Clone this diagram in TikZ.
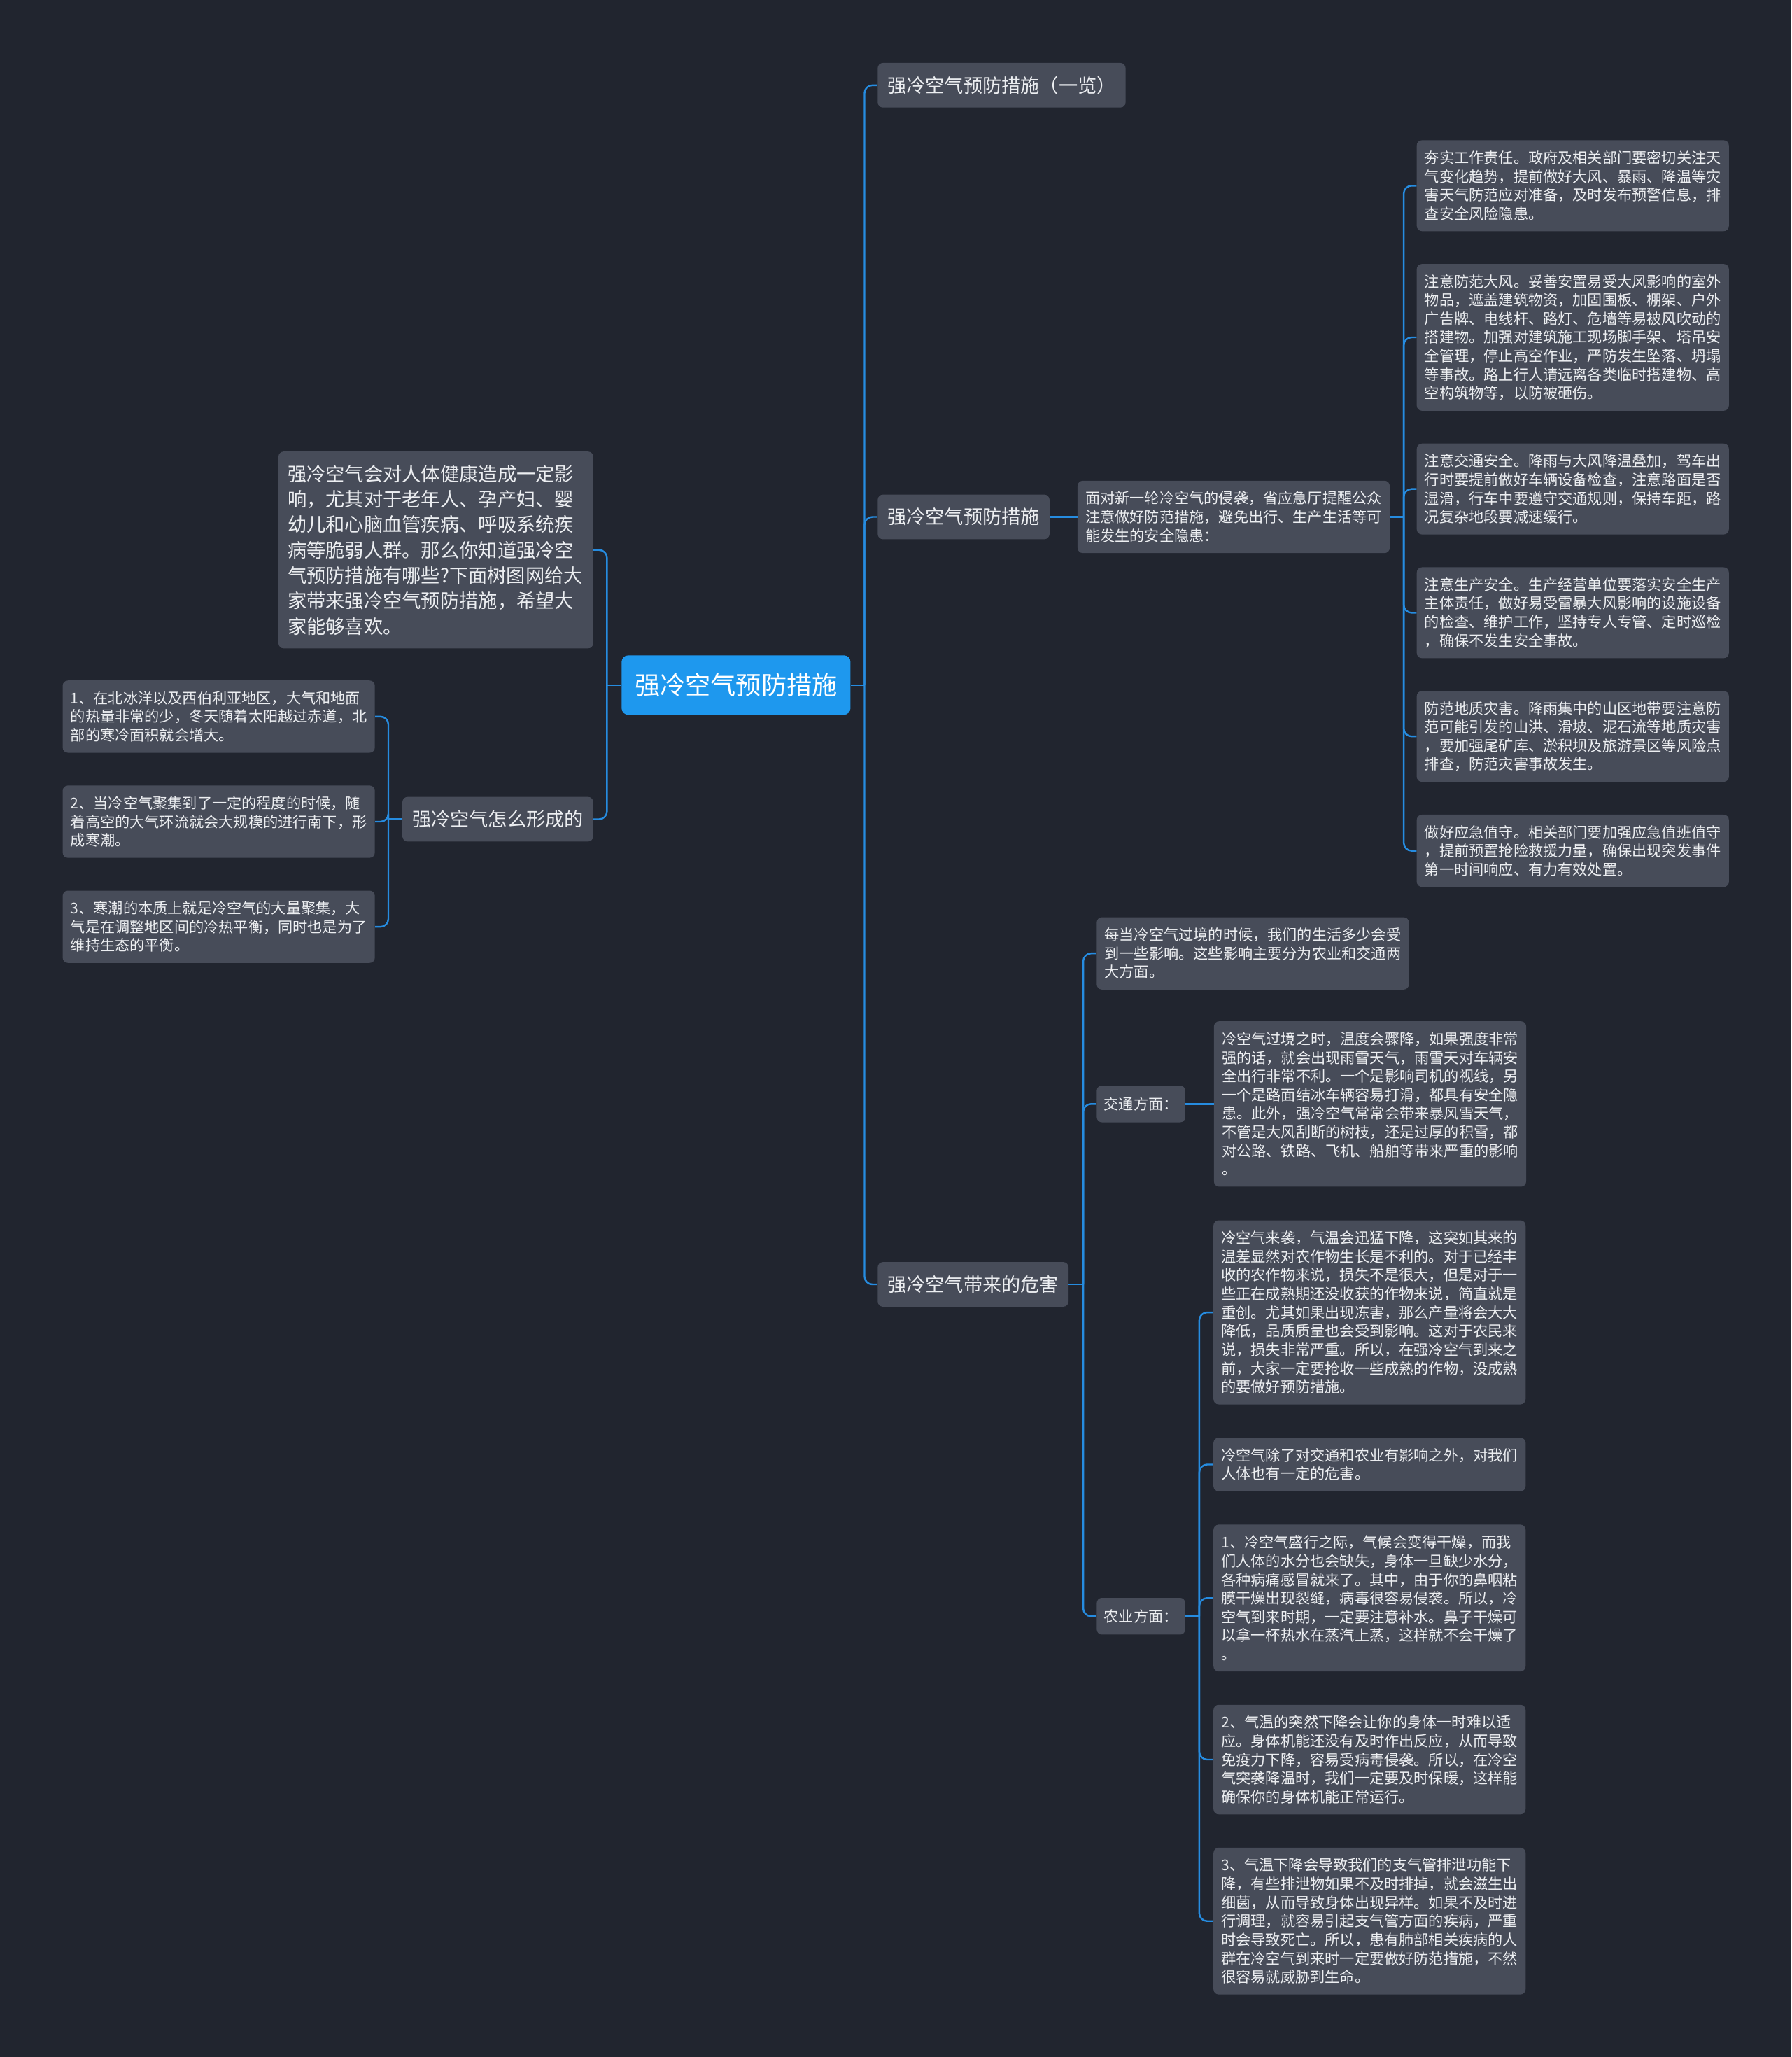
\documentclass[tikz,border=0pt]{standalone}
\usepackage{fontspec}
\setmainfont{Noto Sans CJK SC}
\usetikzlibrary{positioning}
\definecolor{mapBg}{HTML}{21252F}
\definecolor{mapRoot}{HTML}{1E98EE}
\definecolor{mapLine}{HTML}{268CE0}
\definecolor{mapBox}{HTML}{474C59}
\definecolor{mapText}{HTML}{ECEEF1}

\begin{document}
\begin{tikzpicture}[
  x=1pt, y=-1pt,
  node distance=24.6pt,
  rootbox/.style={
    rectangle, rounded corners=5pt, fill=mapRoot, text=white,
    font=\fontsize{19.3}{23}\selectfont,
    minimum width=174.5pt, minimum height=45.3pt, inner sep=0pt,
  },
  topicbox/.style={
    rectangle, rounded corners=4pt, fill=mapBox, text=mapText,
    font=\fontsize{14.5}{17}\selectfont,
    minimum height=34pt, inner xsep=7.5pt, inner ysep=0pt,
  },
  tagbox/.style={
    rectangle, rounded corners=4pt, fill=mapBox, text=mapText,
    font=\fontsize{11.3}{14.2}\selectfont,
    minimum height=28pt, inner xsep=5.5pt, inner ysep=0pt,
  },
  introbox/.style={
    rectangle, rounded corners=4pt, fill=mapBox, text=mapText,
    font=\fontsize{14.55}{19.4}\selectfont,
    text width=226pt, align=left, inner xsep=7pt, inner ysep=3pt,
    minimum height=150pt,
  },
  notebox/.style={
    rectangle, rounded corners=4pt, fill=mapBox, text=mapText,
    font=\fontsize{11.3}{14.2}\selectfont,
    text width=226pt, align=left, inner xsep=6pt, inner ysep=3pt,
    minimum height={#1*14.2pt+12.5pt},
  },
  notebox/.default=3,
  link/.style={draw=mapLine, line width=1.3pt, rounded corners=6pt},
]

% Background
\fill[mapBg] (0,0) rectangle (1366,1568);
\useasboundingbox (0,0) rectangle (1366,1568);

% Centre
\node[rootbox] (root) at (561.2,522.2) {强冷空气预防措施};

% Left side
\node[introbox, anchor=east] (intro) at (452.5,419.2) {强冷空气会对人体健康造成一定影\\响，尤其对于老年人、孕产妇、婴\\幼儿和心脑血管疾病、呼吸系统疾\\病等脆弱人群。那么你知道强冷空\\气预防措施有哪些?下面树图网给大\\家带来强冷空气预防措施，希望大\\家能够喜欢。};
\node[topicbox, anchor=east] (forming) at (452.5,624.5) {强冷空气怎么形成的};
\node[notebox, anchor=north east] (form1) at (286,518.5) {1、在北冰洋以及西伯利亚地区，大气和地面\\的热量非常的少，冬天随着太阳越过赤道，北\\部的寒冷面积就会增大。};
\node[notebox, below=of form1] (form2) {2、当冷空气聚集到了一定的程度的时候，随\\着高空的大气环流就会大规模的进行南下，形\\成寒潮。};
\node[notebox, below=of form2] (form3) {3、寒潮的本质上就是冷空气的大量聚集，大\\气是在调整地区间的冷热平衡，同时也是为了\\维持生态的平衡。};

% Right side
\node[topicbox, anchor=west] (overview) at (669,65) {强冷空气预防措施（一览）};
\node[topicbox, anchor=west] (measures) at (669,394) {强冷空气预防措施};
\node[topicbox, anchor=west] (harms) at (669,979) {强冷空气带来的危害};

% Measures
\node[notebox, right=21pt of measures] (advice) {面对新一轮冷空气的侵袭，省应急厅提醒公众\\注意做好防范措施，避免出行、生产生活等可\\能发生的安全隐患：};
\node[notebox=4, anchor=north west] (duty) at (1080,106.7) {夯实工作责任。政府及相关部门要密切关注天\\气变化趋势，提前做好大风、暴雨、降温等灾\\害天气防范应对准备，及时发布预警信息，排\\查安全风险隐患。};
\node[notebox=7, below=of duty] (wind) {注意防范大风。妥善安置易受大风影响的室外\\物品，遮盖建筑物资，加固围板、棚架、户外\\广告牌、电线杆、路灯、危墙等易被风吹动的\\搭建物。加强对建筑施工现场脚手架、塔吊安\\全管理，停止高空作业，严防发生坠落、坍塌\\等事故。路上行人请远离各类临时搭建物、高\\空构筑物等，以防被砸伤。};
\node[notebox=4, below=of wind] (traffic) {注意交通安全。降雨与大风降温叠加，驾车出\\行时要提前做好车辆设备检查，注意路面是否\\湿滑，行车中要遵守交通规则，保持车距，路\\况复杂地段要减速缓行。};
\node[notebox=4, below=of traffic] (work) {注意生产安全。生产经营单位要落实安全生产\\主体责任，做好易受雷暴大风影响的设施设备\\的检查、维护工作，坚持专人专管、定时巡检\\，确保不发生安全事故。};
\node[notebox=4, below=of work] (geo) {防范地质灾害。降雨集中的山区地带要注意防\\范可能引发的山洪、滑坡、泥石流等地质灾害\\，要加强尾矿库、淤积坝及旅游景区等风险点\\排查，防范灾害事故发生。};
\node[notebox=3, below=of geo] (watch) {做好应急值守。相关部门要加强应急值班值守\\，提前预置抢险救援力量，确保出现突发事件\\第一时间响应、有力有效处置。};

% Harms
\node[notebox, anchor=north west] (impact) at (836,699) {每当冷空气过境的时候，我们的生活多少会受\\到一些影响。这些影响主要分为农业和交通两\\大方面。};
\node[tagbox, anchor=west] (road) at (836,841.5) {交通方面：};
\node[notebox=8, right=21.5pt of road] (roadtext) {冷空气过境之时，温度会骤降，如果强度非常\\强的话，就会出现雨雪天气，雨雪天对车辆安\\全出行非常不利。一个是影响司机的视线，另\\一个是路面结冰车辆容易打滑，都具有安全隐\\患。此外，强冷空气常常会带来暴风雪天气，\\不管是大风刮断的树枝，还是过厚的积雪，都\\对公路、铁路、飞机、船舶等带来严重的影响\\。};
\node[tagbox, anchor=west] (farm) at (836,1232) {农业方面：};
\node[notebox=9, anchor=north west] (crops) at (925,930) {冷空气来袭，气温会迅猛下降，这突如其来的\\温差显然对农作物生长是不利的。对于已经丰\\收的农作物来说，损失不是很大，但是对于一\\些正在成熟期还没收获的作物来说，简直就是\\重创。尤其如果出现冻害，那么产量将会大大\\降低，品质质量也会受到影响。这对于农民来\\说，损失非常严重。所以，在强冷空气到来之\\前，大家一定要抢收一些成熟的作物，没成熟\\的要做好预防措施。};
\node[notebox=2, below=25pt of crops] (body) {冷空气除了对交通和农业有影响之外，对我们\\人体也有一定的危害。};
\node[notebox=7, below=25pt of body] (dry) {1、冷空气盛行之际，气候会变得干燥，而我\\们人体的水分也会缺失，身体一旦缺少水分，\\各种病痛感冒就来了。其中，由于你的鼻咽粘\\膜干燥出现裂缝，病毒很容易侵袭。所以，冷\\空气到来时期，一定要注意补水。鼻子干燥可\\以拿一杯热水在蒸汽上蒸，这样就不会干燥了\\。};
\node[notebox=5, below=25pt of dry] (immune) {2、气温的突然下降会让你的身体一时难以适\\应。身体机能还没有及时作出反应，从而导致\\免疫力下降，容易受病毒侵袭。所以，在冷空\\气突袭降温时，我们一定要及时保暖，这样能\\确保你的身体机能正常运行。};
\node[notebox=7, below=25pt of immune] (lungs) {3、气温下降会导致我们的支气管排泄功能下\\降，有些排泄物如果不及时排掉，就会滋生出\\细菌，从而导致身体出现异样。如果不及时进\\行调理，就容易引起支气管方面的疾病，严重\\时会导致死亡。所以，患有肺部相关疾病的人\\群在冷空气到来时一定要做好防范措施，不然\\很容易就威胁到生命。};

% Connectors from the centre
\draw[link] (root.east) -- ++(10.5,0) coordinate (rootR);
\draw[link] (rootR) |- (overview.west);
\draw[link] (rootR) |- (measures.west);
\draw[link] (rootR) |- (harms.west);
\draw[link] (root.west) -- ++(-11,0) coordinate (rootL);
\draw[link] (rootL) |- (intro.east);
\draw[link] (rootL) |- (forming.east);

% Formation
\draw[link] (forming.west) -- ++(-10.5,0) coordinate (formL);
\draw[link] (formL) |- (form1.east);
\draw[link] (formL) |- (form2.east);
\draw[link] (formL) |- (form3.east);

% Measures
\draw[link] (measures.east) -- (advice.west);
\draw[link] (advice.east) -- ++(10.5,0) coordinate (adviceR);
\draw[link] (adviceR) |- (duty.west);
\draw[link] (adviceR) |- (wind.west);
\draw[link] (adviceR) |- (traffic.west);
\draw[link] (adviceR) |- (work.west);
\draw[link] (adviceR) |- (geo.west);
\draw[link] (adviceR) |- (watch.west);

% Harms
\draw[link] (harms.east) -- ++(11,0) coordinate (harmsR);
\draw[link] (harmsR) |- (impact.west);
\draw[link] (harmsR) |- (road.west);
\draw[link] (harmsR) |- (farm.west);
\draw[link] (road.east) -- (road.east -| roadtext.west);
\draw[link] (farm.east) -- ++(10.5,0) coordinate (farmR);
\draw[link] (farmR) |- (crops.west);
\draw[link] (farmR) |- (body.west);
\draw[link] (farmR) |- (dry.west);
\draw[link] (farmR) |- (immune.west);
\draw[link] (farmR) |- (lungs.west);

\end{tikzpicture}
\end{document}
